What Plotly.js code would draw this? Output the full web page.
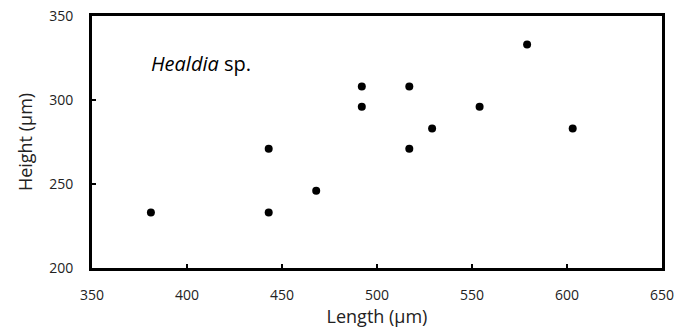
<!DOCTYPE html>
<html>
<head>
<meta charset="utf-8">
<script src="https://cdn.plot.ly/plotly-3.0.1.min.js"></script>
<style>html,body{margin:0;padding:0;background:#fff;}#chart{width:689px;height:333px;}</style>
</head>
<body>
<div id="chart"></div>
<script>
const lengthUm = [381, 443, 443, 468, 492, 492, 517, 517, 529, 554, 579, 603];
const heightUm = [233, 271, 233, 246, 308, 296, 308, 271, 283, 296, 333, 283];
const xTicks = [350, 400, 450, 500, 550, 600, 650];
const yTicks = [200, 250, 300, 350];
const speciesLabel = "<i>Healdia</i> sp.";

const fontFamily = "Open Sans, Noto Sans, sans-serif";

const trace = {
  x: lengthUm, y: heightUm, type: "scatter", mode: "markers",
  marker: {color: "#000", size: 8},
  hoverinfo: "skip", showlegend: false
};

const axisBase = {
  showgrid: false, zeroline: false, showline: true, linecolor: "#000", linewidth: 3,
  mirror: true, ticks: "inside", ticklen: 4, tickwidth: 2, tickcolor: "#000",
  tickfont: {family: fontFamily, size: 14, color: "#222"}
};

const layout = {
  width: 689, height: 333,
  margin: {l: 92, r: 27, t: 16, b: 65},
  paper_bgcolor: "#fff", plot_bgcolor: "#fff",
  xaxis: Object.assign({}, axisBase, {
    range: [350, 650], tickvals: xTicks, ticktext: xTicks.map(String),
    ticklabelstandoff: 12,
    title: {text: "Length (µm)", font: {family: fontFamily, size: 18, color: "#222"}, standoff: 0}
  }),
  yaxis: Object.assign({}, axisBase, {
    range: [200, 350], tickvals: yTicks, ticktext: yTicks.map(String),
    ticklabelstandoff: 13,
    title: {text: "Height (µm)", font: {family: fontFamily, size: 18, color: "#222"}, standoff: 12}
  }),
  annotations: [{
    text: speciesLabel, xref: "paper", yref: "paper", x: 0.1, y: 0.81,
    xanchor: "left", yanchor: "middle", showarrow: false,
    font: {family: fontFamily, size: 20, color: "#000"}
  }]
};

Plotly.newPlot("chart", [trace], layout, {displayModeBar: false, staticPlot: true});
</script>
</body>
</html>
